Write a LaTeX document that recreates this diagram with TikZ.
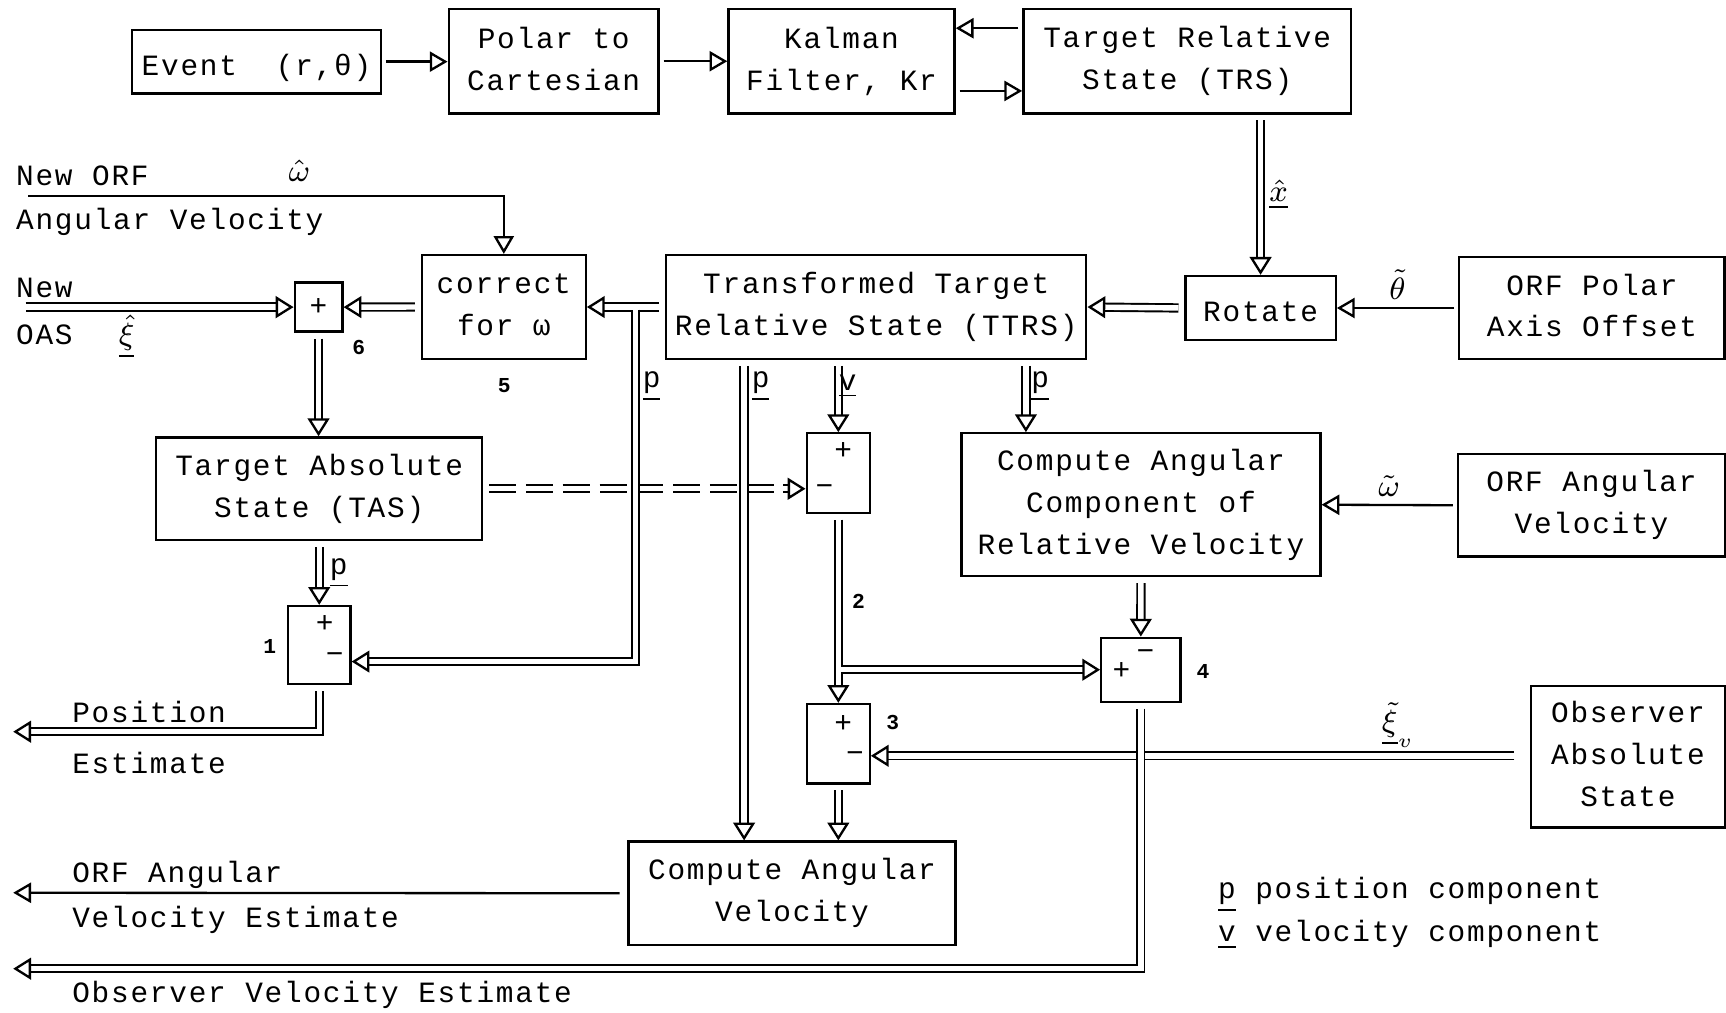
\documentclass[tikz,border=0pt]{standalone}
\usepackage{fontspec}
\setmainfont{Liberation Mono}[LetterSpace=6.0]
\usepackage{tikz}
\usetikzlibrary{arrows.meta,calc}
\tikzset{BLOCK/.style={rectangle,draw,semithick,align=center,inner sep=0pt,execute at begin node={\rule{0pt}{8.5pt}},execute at end node={\rule[-1.4pt]{0pt}{1.4pt}}}}
\tikzset{SUM/.style={rectangle,draw,semithick,inner sep=0pt}}
\tikzset{SIGN/.style={inner sep=0pt}}
\tikzset{LABEL/.style={inner sep=0pt,anchor=west}}
\tikzset{NUM/.style={inner sep=0pt,font=\fontsize{5.5}{6}\selectfont\bfseries}}
\tikzset{ARROW/.style={semithick,shorten <=1pt,-{Triangle[open,length=4.6pt,width=5.2pt]}}}
\tikzset{DARROW/.style={double,line width=0.5pt,double distance=1.4pt,shorten <=1.5pt,-{Triangle[open,length=4.6pt,width=5.6pt,line width=0.6pt]}}}

\begin{document}
\begin{tikzpicture}[x=0.01cm,y=-0.01cm,font=\fontsize{7.6}{10.8}\selectfont]
\useasboundingbox (0,0) rectangle (1568,920);

% blocks
\node[BLOCK,minimum width=2.26cm,minimum height=0.58cm] (n_event) at (233,56) {Event\ \ (r,θ)};
\node[BLOCK,minimum width=1.906cm,minimum height=0.948cm] (n_polar) at (503,55.6) {Polar to\\Cartesian};
\node[BLOCK,minimum width=2.053cm,minimum height=0.948cm] (n_kalman) at (764.5,55.6) {Kalman\\Filter, Kr};
\node[BLOCK,minimum width=2.975cm,minimum height=0.948cm] (n_trs) at (1078.5,55.6) {Target Relative\\State (TRS)};
\node[BLOCK,minimum width=1.487cm,minimum height=0.944cm] (n_corr) at (457.7,278.9) {correct\\for ω};
\node[BLOCK,minimum width=3.815cm,minimum height=0.944cm] (n_ttrs) at (796,278.9) {Transformed Target\\Relative State (TTRS)};
\node[BLOCK,minimum width=1.364cm,minimum height=0.582cm] (n_rotate) at (1145.2,279.8) {Rotate};
\node[BLOCK,minimum width=2.41cm,minimum height=0.932cm] (n_orfpolar) at (1446.2,279.8) {ORF Polar\\Axis Offset};
\node[BLOCK,minimum width=2.96cm,minimum height=0.933cm] (n_tas) at (290,444) {Target Absolute\\State (TAS)};
\node[BLOCK,minimum width=3.259cm,minimum height=1.297cm] (n_caa) at (1036.5,458.5) {Compute Angular\\Component of\\Relative Velocity};
\node[BLOCK,minimum width=2.425cm,minimum height=0.933cm] (n_orfang) at (1445.8,459) {ORF Angular\\Velocity};
\node[BLOCK,minimum width=1.76cm,minimum height=1.284cm] (n_obs) at (1478.9,687.4) {Observer\\Absolute\\State};
\node[BLOCK,minimum width=2.97cm,minimum height=0.939cm] (n_cav) at (719.5,811.5) {Compute Angular\\Velocity};

% summing junctions
\node[SUM,minimum width=0.433cm,minimum height=0.445cm] (n_sum6) at (289.4,279) {+};
\node[SUM,minimum width=0.567cm,minimum height=0.709cm] (n_sum1) at (290,586) {};
\node[SUM,minimum width=0.575cm,minimum height=0.721cm] (n_sum2) at (761.6,429.7) {};
\node[SUM,minimum width=0.569cm,minimum height=0.721cm] (n_sum3) at (761.6,675.6) {};
\node[SUM,minimum width=0.718cm,minimum height=0.581cm] (n_sum4) at (1036.4,608.4) {};

\node[SIGN] (s_sum1_p) at (295,567) {+};
\node[SIGN] (s_sum1_m) at (304,598) {−};
\node[SIGN] (s_sum2_p) at (766,410) {+};
\node[SIGN] (s_sum2_m) at (749,445) {−};
\node[SIGN] (s_sum3_p) at (766,658) {+};
\node[SIGN] (s_sum3_m) at (776.7,687.4) {−};
\node[SIGN] (s_sum4_p) at (1018.7,610) {+};
\node[SIGN] (s_sum4_m) at (1040.6,595) {−};

\node[NUM] (l_num1) at (245,587) {1};
\node[NUM] (l_num2) at (780,546) {2};
\node[NUM] (l_num3) at (811,656) {3};
\node[NUM] (l_num4) at (1093,610) {4};
\node[NUM] (l_num5) at (458,350) {5};
\node[NUM] (l_num6) at (326,316) {6};

% top row
\draw[ARROW] (n_event.east) -- (n_event.east -| n_polar.west);
\draw[ARROW] (n_polar.east) -- (n_kalman.west);
\draw[ARROW] ($(n_trs.west)+(0,-30)$) -- ($(n_kalman.east)+(0,-30)$);
\draw[ARROW] ($(n_kalman.east)+(0,27)$) -- ($(n_trs.west)+(0,27)$);
\draw[DARROW] (n_trs.south -| n_rotate) -- (n_rotate.north) node[midway,right=2pt,inner sep=0pt] (l_xhat) {$\underline{\hat{x}}$};

% rotation into the transformed frame
\draw[ARROW] (n_orfpolar.west) -- (n_rotate.east) node[midway,above=2pt,inner sep=0pt] (l_theta) {$\tilde{\theta}$};
\draw[DARROW] (n_rotate.west) -- (n_ttrs.east);
\draw[DARROW] (n_ttrs.west) -- (n_corr.east);
\draw[DARROW] (n_corr.west) -- (n_sum6.east);

\coordinate (c_omega) at (22,178);
\draw[ARROW] (c_omega) -- (c_omega -| n_corr) -- (n_corr.north);
\node[LABEL] (l_neworf) at (14,160) {New ORF};
\node[LABEL] (l_angvel) at (14,202) {Angular Velocity};
\node[SIGN] (l_omegahat) at (272,155) {$\hat{\omega}$};

\coordinate (c_newoas) at (18,279);
\draw[DARROW] (c_newoas) -- (n_sum6.west);
\node[LABEL] (l_new) at (14,262) {New};
\node[LABEL] (l_oas) at (14,304) {OAS};
\node[SIGN] (l_xi) at (115,306) {$\underline{\hat{\xi}}$};

\draw[DARROW] (n_sum6.south) -- (n_sum6.south |- n_tas.north);

% dashed feed into 2 (drawn below the verticals)
\draw[DARROW,dashed,dash pattern=on 7pt off 2.5pt] (n_tas.east) -- (n_tas.east -| n_sum2.west);

% position branch off the TTRS line
\coordinate (c_tee1) at ($(n_ttrs.west)+(-26.6,0)$);
\coordinate (c_sum1in) at ($(n_sum1.east)+(0,15)$);
\draw[DARROW,shorten <=0pt] ($(c_tee1)+(0,-0.7pt)$) -- (c_tee1 |- c_sum1in) -- (c_sum1in);
\node[SIGN] (l_p1) at (592,351) {\underline{p}};

\draw[DARROW] (n_tas.south) -- (n_sum1.north) node[midway,right=2.5pt,inner sep=0pt] (l_p0) {\underline{p}};
\coordinate (c_posest) at (12,664.7);
\draw[DARROW] (n_sum1.south) -- (n_sum1.south |- c_posest) -- (c_posest);
\node[LABEL] (l_position) at (65,646.5) {Position};
\node[LABEL] (l_estimate) at (65,693) {Estimate};

% outputs of TTRS
\coordinate (c_ttrs_p1) at ($(n_ttrs.south)+(-120,0)$);
\coordinate (c_ttrs_p2) at ($(n_ttrs.south)+(136,0)$);
\draw[DARROW] (c_ttrs_p1) -- (c_ttrs_p1 |- n_cav.north);
\node[SIGN] (l_p2) at (691,351) {\underline{p}};
\draw[DARROW] (n_ttrs.south -| n_sum2) -- (n_sum2.north);
\node[SIGN] (l_v1) at (770,351) {\underline{v}};
\draw[DARROW] (c_ttrs_p2) -- (c_ttrs_p2 |- n_caa.north);
\node[SIGN] (l_p3) at (945,351) {\underline{p}};

\draw[ARROW] (n_orfang.west) -- (n_caa.east) node[midway,above=2pt,inner sep=0pt] (l_omegatilde) {$\tilde{\omega}$};
\draw[DARROW] (n_caa.south) -- (n_sum4.north);

% 2 -> 3, with branch to 4
\draw[DARROW] (n_sum2.south) -- (n_sum3.north);
\coordinate (c_tee2) at (n_sum2.south |- n_sum4.west);
\draw[DARROW,shorten <=0pt] ($(c_tee2)+(0.7pt,0)$) -- (n_sum4.west);

\coordinate (c_sum3in) at ($(n_sum3.east)+(0,11)$);
\draw[DARROW,shorten <=4pt] (n_obs.west |- c_sum3in) -- (c_sum3in) node[pos=0.2,above=2pt,inner sep=0pt] (l_xiv) {$\underline{\tilde{\xi}}_{v}$};
\draw[DARROW] (n_sum3.south) -- (n_sum3.south |- n_cav.north);

% outputs
\coordinate (c_orfest) at (12,811);
\draw[ARROW,shorten <=2pt] (n_cav.west) -- (c_orfest);
\node[LABEL] (l_orfang) at (65,795) {ORF Angular};
\node[LABEL] (l_velest) at (65,836) {Velocity Estimate};

\coordinate (c_obsest) at (12,880);
\draw[DARROW] (n_sum4.south) -- (n_sum4.south |- c_obsest) -- (c_obsest);
\node[LABEL] (l_obsest) at (65,904) {Observer Velocity Estimate};

% legend
\node[LABEL] (l_legend_p) at (1106,813) {\underline{p} position component};
\node[LABEL] (l_legend_v) at (1106,849) {\underline{v} velocity component};

\end{tikzpicture}
\end{document}
